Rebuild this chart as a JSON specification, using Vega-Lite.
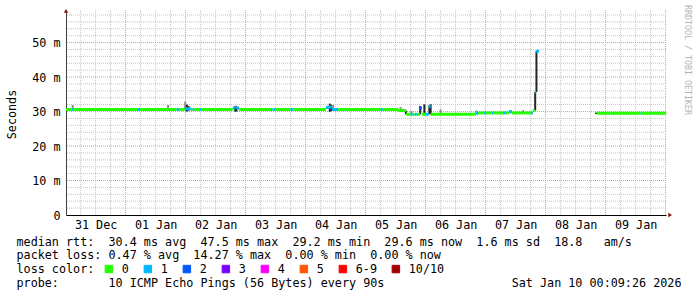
{
  "$schema": "https://vega.github.io/schema/vega-lite/v6.json",
  "width": 600,
  "height": 205,
  "autosize": {"type": "none"},
  "padding": {"left": 66, "top": 10, "right": 31, "bottom": 82},
  "background": "white",
  "title": {
    "text": "RRDTOOL / TOBI OETIKER",
    "orient": "right",
    "anchor": "start",
    "frame": "group",
    "offset": 3,
    "dx": -5,
    "font": "DejaVu Sans Mono",
    "fontSize": 8.3,
    "fontWeight": "normal",
    "color": "#b4b4b4"
  },
  "config": {
    "font": "DejaVu Sans Mono",
    "view": {"stroke": null},
    "axis": {"ticks": false, "grid": false, "labelFont": "DejaVu Sans Mono", "labelFontSize": 11.75, "labelColor": "#000000", "titleFont": "DejaVu Sans Mono", "titleFontWeight": "normal", "titleColor": "#000000", "titleFontSize": 11.75, "labelOverlap": false}
  },
  "datasets": {
    "vgrid": [
      {"t": "2025-12-31T06:00:00Z", "major": false}, {"t": "2025-12-31T12:00:00Z", "major": false}, {"t": "2025-12-31T18:00:00Z", "major": false},
      {"t": "2026-01-01T00:00:00Z", "major": true}, {"t": "2026-01-01T06:00:00Z", "major": false}, {"t": "2026-01-01T12:00:00Z", "major": false}, {"t": "2026-01-01T18:00:00Z", "major": false},
      {"t": "2026-01-02T00:00:00Z", "major": true}, {"t": "2026-01-02T06:00:00Z", "major": false}, {"t": "2026-01-02T12:00:00Z", "major": false}, {"t": "2026-01-02T18:00:00Z", "major": false},
      {"t": "2026-01-03T00:00:00Z", "major": true}, {"t": "2026-01-03T06:00:00Z", "major": false}, {"t": "2026-01-03T12:00:00Z", "major": false}, {"t": "2026-01-03T18:00:00Z", "major": false},
      {"t": "2026-01-04T00:00:00Z", "major": true}, {"t": "2026-01-04T06:00:00Z", "major": false}, {"t": "2026-01-04T12:00:00Z", "major": false}, {"t": "2026-01-04T18:00:00Z", "major": false},
      {"t": "2026-01-05T00:00:00Z", "major": true}, {"t": "2026-01-05T06:00:00Z", "major": false}, {"t": "2026-01-05T12:00:00Z", "major": false}, {"t": "2026-01-05T18:00:00Z", "major": false},
      {"t": "2026-01-06T00:00:00Z", "major": true}, {"t": "2026-01-06T06:00:00Z", "major": false}, {"t": "2026-01-06T12:00:00Z", "major": false}, {"t": "2026-01-06T18:00:00Z", "major": false},
      {"t": "2026-01-07T00:00:00Z", "major": true}, {"t": "2026-01-07T06:00:00Z", "major": false}, {"t": "2026-01-07T12:00:00Z", "major": false}, {"t": "2026-01-07T18:00:00Z", "major": false},
      {"t": "2026-01-08T00:00:00Z", "major": true}, {"t": "2026-01-08T06:00:00Z", "major": false}, {"t": "2026-01-08T12:00:00Z", "major": false}, {"t": "2026-01-08T18:00:00Z", "major": false},
      {"t": "2026-01-09T00:00:00Z", "major": true}, {"t": "2026-01-09T06:00:00Z", "major": false}, {"t": "2026-01-09T12:00:00Z", "major": false}, {"t": "2026-01-09T18:00:00Z", "major": false},
      {"t": "2026-01-10T00:00:00Z", "major": true}
    ],
    "hgrid": [
      {"v": 2, "major": false}, {"v": 4, "major": false}, {"v": 6, "major": false}, {"v": 8, "major": false}, {"v": 10, "major": true},
      {"v": 12, "major": false}, {"v": 14, "major": false}, {"v": 16, "major": false}, {"v": 18, "major": false}, {"v": 20, "major": true},
      {"v": 22, "major": false}, {"v": 24, "major": false}, {"v": 26, "major": false}, {"v": 28, "major": false}, {"v": 30, "major": true},
      {"v": 32, "major": false}, {"v": 34, "major": false}, {"v": 36, "major": false}, {"v": 38, "major": false}, {"v": 40, "major": true},
      {"v": 42, "major": false}, {"v": 44, "major": false}, {"v": 46, "major": false}, {"v": 48, "major": false}, {"v": 50, "major": true},
      {"v": 52, "major": false}, {"v": 54, "major": false}, {"v": 56, "major": false}, {"v": 58, "major": false}
    ],
    "median": [
      {"start": "2025-12-31T00:09:26Z", "end": "2025-12-31T02:30:00Z", "rtt": 30.6, "loss": "0"},
      {"start": "2025-12-31T02:30:00Z", "end": "2025-12-31T03:15:00Z", "rtt": 30.6, "loss": "1"},
      {"start": "2025-12-31T03:15:00Z", "end": "2026-01-01T04:55:00Z", "rtt": 30.6, "loss": "0"},
      {"start": "2026-01-01T04:55:00Z", "end": "2026-01-01T05:45:00Z", "rtt": 30.6, "loss": "1"},
      {"start": "2026-01-01T05:45:00Z", "end": "2026-01-01T20:25:00Z", "rtt": 30.6, "loss": "0"},
      {"start": "2026-01-01T20:25:00Z", "end": "2026-01-01T21:20:00Z", "rtt": 30.6, "loss": "1"},
      {"start": "2026-01-01T21:20:00Z", "end": "2026-01-01T23:40:00Z", "rtt": 30.6, "loss": "0"},
      {"start": "2026-01-01T23:40:00Z", "end": "2026-01-02T02:05:00Z", "rtt": 30.8, "loss": "1"},
      {"start": "2026-01-02T02:05:00Z", "end": "2026-01-02T02:50:00Z", "rtt": 30.6, "loss": "0"},
      {"start": "2026-01-02T02:50:00Z", "end": "2026-01-02T03:35:00Z", "rtt": 30.6, "loss": "1"},
      {"start": "2026-01-02T03:35:00Z", "end": "2026-01-02T05:45:00Z", "rtt": 30.6, "loss": "0"},
      {"start": "2026-01-02T05:45:00Z", "end": "2026-01-02T06:30:00Z", "rtt": 30.6, "loss": "1"},
      {"start": "2026-01-02T06:30:00Z", "end": "2026-01-02T18:50:00Z", "rtt": 30.6, "loss": "0"},
      {"start": "2026-01-02T18:50:00Z", "end": "2026-01-02T19:40:00Z", "rtt": 31.0, "loss": "1"},
      {"start": "2026-01-02T19:40:00Z", "end": "2026-01-02T20:20:00Z", "rtt": 31.3, "loss": "1"},
      {"start": "2026-01-02T20:20:00Z", "end": "2026-01-02T21:20:00Z", "rtt": 31.0, "loss": "1"},
      {"start": "2026-01-02T21:20:00Z", "end": "2026-01-03T10:07:00Z", "rtt": 30.6, "loss": "0"},
      {"start": "2026-01-03T10:07:00Z", "end": "2026-01-03T10:50:00Z", "rtt": 30.6, "loss": "1"},
      {"start": "2026-01-03T10:50:00Z", "end": "2026-01-03T11:20:00Z", "rtt": 30.6, "loss": "0"},
      {"start": "2026-01-03T11:20:00Z", "end": "2026-01-03T11:45:00Z", "rtt": 30.6, "loss": "1"},
      {"start": "2026-01-03T11:45:00Z", "end": "2026-01-03T18:00:00Z", "rtt": 30.6, "loss": "0"},
      {"start": "2026-01-03T18:00:00Z", "end": "2026-01-03T19:12:00Z", "rtt": 30.6, "loss": "1"},
      {"start": "2026-01-03T19:12:00Z", "end": "2026-01-04T08:07:00Z", "rtt": 30.6, "loss": "0"},
      {"start": "2026-01-04T08:07:00Z", "end": "2026-01-04T09:20:00Z", "rtt": 31.2, "loss": "1"},
      {"start": "2026-01-04T09:20:00Z", "end": "2026-01-04T10:30:00Z", "rtt": 31.3, "loss": "1"},
      {"start": "2026-01-04T10:30:00Z", "end": "2026-01-04T13:00:00Z", "rtt": 30.6, "loss": "1"},
      {"start": "2026-01-04T13:00:00Z", "end": "2026-01-05T06:07:00Z", "rtt": 30.6, "loss": "0"},
      {"start": "2026-01-05T06:07:00Z", "end": "2026-01-05T06:55:00Z", "rtt": 30.6, "loss": "1"},
      {"start": "2026-01-05T06:55:00Z", "end": "2026-01-05T13:00:00Z", "rtt": 30.6, "loss": "0"},
      {"start": "2026-01-05T13:00:00Z", "end": "2026-01-05T16:07:00Z", "rtt": 30.3, "loss": "0"},
      {"start": "2026-01-05T16:07:00Z", "end": "2026-01-05T18:00:00Z", "rtt": 29.2, "loss": "0"},
      {"start": "2026-01-05T18:00:00Z", "end": "2026-01-05T18:50:00Z", "rtt": 29.2, "loss": "1"},
      {"start": "2026-01-05T18:50:00Z", "end": "2026-01-05T19:40:00Z", "rtt": 29.2, "loss": "0"},
      {"start": "2026-01-05T19:40:00Z", "end": "2026-01-05T20:30:00Z", "rtt": 29.2, "loss": "1"},
      {"start": "2026-01-05T20:30:00Z", "end": "2026-01-05T21:40:00Z", "rtt": 29.2, "loss": "0"},
      {"start": "2026-01-05T21:40:00Z", "end": "2026-01-05T22:30:00Z", "rtt": 31.0, "loss": "2"},
      {"start": "2026-01-05T22:30:00Z", "end": "2026-01-06T00:00:00Z", "rtt": 29.2, "loss": "0"},
      {"start": "2026-01-06T00:00:00Z", "end": "2026-01-06T01:12:00Z", "rtt": 29.2, "loss": "1"},
      {"start": "2026-01-06T01:12:00Z", "end": "2026-01-06T02:00:00Z", "rtt": 31.5, "loss": "1"},
      {"start": "2026-01-06T02:00:00Z", "end": "2026-01-06T20:07:00Z", "rtt": 29.2, "loss": "0"},
      {"start": "2026-01-06T20:07:00Z", "end": "2026-01-06T21:00:00Z", "rtt": 29.5, "loss": "1"},
      {"start": "2026-01-06T21:00:00Z", "end": "2026-01-06T23:18:00Z", "rtt": 29.6, "loss": "0"},
      {"start": "2026-01-06T23:18:00Z", "end": "2026-01-07T00:06:00Z", "rtt": 29.6, "loss": "1"},
      {"start": "2026-01-07T00:06:00Z", "end": "2026-01-07T02:24:00Z", "rtt": 29.6, "loss": "0"},
      {"start": "2026-01-07T02:24:00Z", "end": "2026-01-07T03:18:00Z", "rtt": 29.6, "loss": "1"},
      {"start": "2026-01-07T03:18:00Z", "end": "2026-01-07T06:54:00Z", "rtt": 29.6, "loss": "0"},
      {"start": "2026-01-07T06:54:00Z", "end": "2026-01-07T08:06:00Z", "rtt": 29.6, "loss": "1"},
      {"start": "2026-01-07T08:06:00Z", "end": "2026-01-07T09:18:00Z", "rtt": 29.6, "loss": "0"},
      {"start": "2026-01-07T09:18:00Z", "end": "2026-01-07T10:30:00Z", "rtt": 30.0, "loss": "1"},
      {"start": "2026-01-07T10:30:00Z", "end": "2026-01-07T18:06:00Z", "rtt": 29.6, "loss": "0"},
      {"start": "2026-01-07T18:06:00Z", "end": "2026-01-07T18:54:00Z", "rtt": 29.6, "loss": "1"},
      {"start": "2026-01-07T18:54:00Z", "end": "2026-01-07T19:42:00Z", "rtt": 30.3, "loss": "0"},
      {"start": "2026-01-07T19:42:00Z", "end": "2026-01-07T20:12:00Z", "rtt": 35.7, "loss": "1"},
      {"start": "2026-01-07T20:12:00Z", "end": "2026-01-07T21:24:00Z", "rtt": 47.5, "loss": "1"},
      {"start": "2026-01-08T20:24:00Z", "end": "2026-01-09T02:06:00Z", "rtt": 29.5, "loss": "0"},
      {"start": "2026-01-09T02:06:00Z", "end": "2026-01-09T02:30:00Z", "rtt": 29.5, "loss": "1"},
      {"start": "2026-01-09T02:30:00Z", "end": "2026-01-09T14:00:00Z", "rtt": 29.5, "loss": "0"},
      {"start": "2026-01-09T14:00:00Z", "end": "2026-01-09T14:30:00Z", "rtt": 29.5, "loss": "1"},
      {"start": "2026-01-09T14:30:00Z", "end": "2026-01-10T00:09:26Z", "rtt": 29.5, "loss": "0"}
    ],
    "smoke": [
      {"t": "2025-12-31T02:50:00Z", "lo": 30.6, "hi": 31.9, "density": 1},
      {"t": "2026-01-01T17:00:00Z", "lo": 30.6, "hi": 31.9, "density": 1},
      {"t": "2026-01-01T23:50:00Z", "lo": 30.6, "hi": 32.9, "density": 1},
      {"t": "2026-01-02T00:30:00Z", "lo": 30.0, "hi": 32.0, "density": 2},
      {"t": "2026-01-02T01:10:00Z", "lo": 30.2, "hi": 31.6, "density": 2},
      {"t": "2026-01-02T19:50:00Z", "lo": 30.0, "hi": 31.6, "density": 2},
      {"t": "2026-01-02T20:20:00Z", "lo": 30.0, "hi": 31.5, "density": 2},
      {"t": "2026-01-04T09:40:00Z", "lo": 29.9, "hi": 32.3, "density": 2},
      {"t": "2026-01-04T10:10:00Z", "lo": 30.2, "hi": 32.0, "density": 2},
      {"t": "2026-01-04T11:00:00Z", "lo": 30.4, "hi": 31.9, "density": 1},
      {"t": "2026-01-05T14:00:00Z", "lo": 30.5, "hi": 31.3, "density": 1},
      {"t": "2026-01-05T16:07:00Z", "lo": 29.2, "hi": 30.3, "density": 2},
      {"t": "2026-01-05T18:20:00Z", "lo": 29.3, "hi": 30.2, "density": 1},
      {"t": "2026-01-05T21:50:00Z", "lo": 29.2, "hi": 31.6, "density": 2},
      {"t": "2026-01-05T23:30:00Z", "lo": 29.2, "hi": 32.1, "density": 2},
      {"t": "2026-01-06T01:30:00Z", "lo": 29.2, "hi": 31.8, "density": 2},
      {"t": "2026-01-06T02:00:00Z", "lo": 29.2, "hi": 32.1, "density": 2},
      {"t": "2026-01-06T06:00:00Z", "lo": 29.3, "hi": 30.6, "density": 1},
      {"t": "2026-01-06T20:15:00Z", "lo": 29.6, "hi": 30.3, "density": 1},
      {"t": "2026-01-07T09:50:00Z", "lo": 29.5, "hi": 30.3, "density": 2},
      {"t": "2026-01-07T15:00:00Z", "lo": 29.6, "hi": 30.4, "density": 1},
      {"t": "2026-01-07T19:50:00Z", "lo": 30.3, "hi": 35.7, "density": 2},
      {"t": "2026-01-07T20:20:00Z", "lo": 35.7, "hi": 47.5, "density": 2},
      {"t": "2026-01-08T20:10:00Z", "lo": 29.3, "hi": 29.7, "density": 2}
    ]
  },
  "layer": [
    {
      "data": {"name": "vgrid"},
      "mark": {"type": "rule", "strokeWidth": 1, "strokeDash": [1, 1]},
      "encoding": {
        "x": {
          "field": "t", "type": "temporal",
          "scale": {"type": "utc", "domain": [1767139766000, 1768003766000]},
          "axis": {
            "values": [1767182400000, 1767268800000, 1767355200000, 1767441600000, 1767528000000, 1767614400000, 1767700800000, 1767787200000, 1767873600000, 1767960000000],
            "labelExpr": "utcFormat(datum.value, '%d %b')",
            "labelPadding": 4,
            "domainColor": "#000000",
            "title": [
              "median rtt:\u00a0\u00a030.4 ms avg\u00a0\u00a047.5 ms max\u00a0\u00a029.2 ms min\u00a0\u00a029.6 ms now\u00a0\u00a01.6 ms sd\u00a0\u00a018.8\u00a0\u00a0\u00a0am/s",
              "packet loss: 0.47 % avg\u00a0\u00a014.27 % max\u00a0\u00a00.00 % min\u00a0\u00a00.00 % now",
              "loss color:",
              "probe:\u00a0\u00a0\u00a0\u00a0\u00a0\u00a0\u00a010 ICMP Echo Pings (56 Bytes) every 90s\u00a0\u00a0\u00a0\u00a0\u00a0\u00a0\u00a0\u00a0\u00a0\u00a0\u00a0\u00a0\u00a0\u00a0\u00a0\u00a0\u00a0\u00a0Sat Jan 10 00:09:26 2026"
            ],
            "titleX": -50,
            "titleY": 30,
            "titleAlign": "left",
            "titleAnchor": "start",
            "titleBaseline": "alphabetic",
            "titleLineHeight": 13.7
          }
        },
        "color": {"condition": {"test": "datum.major", "value": "#ec9090"}, "value": "#c4c4c4"}
      }
    },
    {
      "data": {"name": "hgrid"},
      "mark": {"type": "rule", "strokeWidth": 1, "strokeDash": [1, 1]},
      "encoding": {
        "y": {
          "field": "v", "type": "quantitative",
          "scale": {"domain": [0, 59.45], "nice": false, "zero": true},
          "axis": {
            "values": [0, 10, 20, 30, 40, 50],
            "labelExpr": "datum.value == 0 ? '0' : datum.value + ' m'",
            "labelPadding": 6,
            "domainColor": "#404040",
            "title": "Seconds",
            "titleX": -55,
            "titleY": 104,
            "titleAngle": -90,
            "titleAlign": "center",
            "titleBaseline": "middle"
          }
        },
        "color": {"condition": {"test": "datum.major", "value": "#ec9090"}, "value": "#c4c4c4"}
      }
    },
    {
      "data": {"name": "smoke"},
      "mark": {"type": "rule", "strokeWidth": 2, "strokeCap": "butt"},
      "encoding": {
        "x": {"field": "t", "type": "temporal"},
        "y": {"field": "lo", "type": "quantitative"},
        "y2": {"field": "hi"},
        "color": {"condition": {"test": "datum.density > 1", "value": "#262626"}, "value": "#8c8c8c"}
      }
    },
    {
      "data": {"name": "median"},
      "mark": {"type": "rule", "strokeWidth": 3, "strokeCap": "butt"},
      "encoding": {
        "x": {"field": "start", "type": "temporal"},
        "x2": {"field": "end"},
        "y": {"field": "rtt", "type": "quantitative"},
        "color": {
          "field": "loss", "type": "nominal",
          "scale": {"domain": ["0", "1", "2", "3", "4", "5", "6-9", "10/10"], "range": ["#26ff00", "#00b8ff", "#0059ff", "#7e00ff", "#ff00ff", "#ff5500", "#ff0000", "#a00000"]},
          "legend": {
            "orient": "none",
            "legendX": 37,
            "legendY": 253,
            "direction": "horizontal",
            "title": null,
            "labelFont": "DejaVu Sans Mono",
            "labelFontSize": 11.75,
            "labelColor": "#000000",
            "labelOffset": 7,
            "columnPadding": 13,
            "symbolType": "square",
            "symbolSize": 56,
            "symbolStrokeWidth": 1,
            "encode": {"symbols": {"update": {"fill": {"scale": "color", "field": "value"}, "fillOpacity": {"value": 1}, "stroke": {"value": "#000000"}, "strokeWidth": {"value": 1}, "strokeOpacity": {"value": 1}}}}
          }
        }
      }
    },
    {
      "data": {"values": [{"end": "y"}]},
      "mark": {"type": "point", "shape": "triangle-up", "filled": true, "size": 20, "color": "#8b1515", "opacity": 1, "clip": false},
      "encoding": {
        "x": {"datum": {"year": 2025, "month": 12, "date": 31, "hours": 0, "minutes": 9, "seconds": 26, "utc": true}, "type": "temporal"},
        "y": {"datum": 59.2, "type": "quantitative"}
      }
    },
    {
      "data": {"values": [{"end": "x"}]},
      "mark": {"type": "point", "shape": "triangle-right", "filled": true, "size": 20, "color": "#8b1515", "opacity": 1, "clip": false},
      "encoding": {
        "x": {"datum": {"year": 2026, "month": 1, "date": 10, "hours": 1, "minutes": 50, "utc": true}, "type": "temporal"},
        "y": {"datum": 0, "type": "quantitative"}
      }
    }
  ]
}
